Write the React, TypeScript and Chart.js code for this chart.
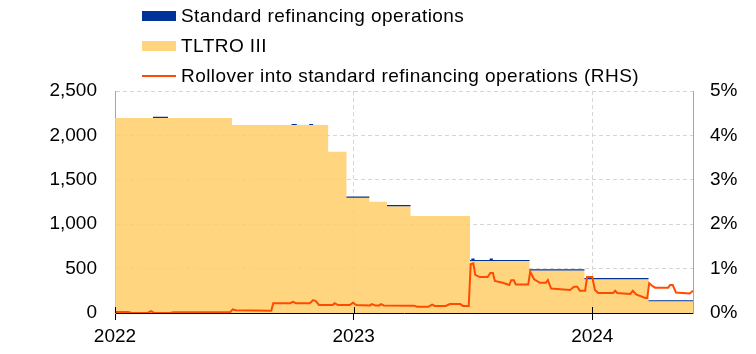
import React, { useEffect, useRef } from 'react';
import { Chart, registerables } from 'chart.js';

Chart.register(...registerables);

// ---- axis ----
const AXIS_START = '2022-01-01';
const AXIS_END = '2024-06-03';
const yearTickDates = ['2022-01-01', '2023-01-01', '2024-01-01'];
const yearTickLabels = ['2022', '2023', '2024'];
const leftTickStep = 500;
const leftMax = 2500;
const rightTickStep = 1;
const rightMax = 5;

// ---- amounts (EUR bn), step series: value holds from date until next date ----
const amountDates = [
  '2022-01-01', '2022-02-28', '2022-03-23', '2022-06-29', '2022-09-28', '2022-10-06',
  '2022-10-25', '2022-10-31', '2022-11-23', '2022-12-21', '2023-01-25', '2023-02-21',
  '2023-03-29', '2023-06-28', '2023-06-30', '2023-07-05', '2023-07-28', '2023-08-02',
  '2023-09-27', '2023-12-20', '2024-03-27', '2024-06-03',
];
const tltroValues = [
  2196, 2196, 2196, 2117, 2117, 2117,
  2117, 2117, 1816, 1298, 1253, 1203,
  1092, 585, 585, 585, 585, 585,
  480, 380, 131, 131,
];
const mroValues = [
  0.3, 13, 0.3, 0.3, 11, 0.3,
  11, 0.3, 0.3, 14, 1, 13,
  1, 13, 28, 13, 28, 13,
  13, 13, 13, 13,
];

// ---- rollover share (%, RHS) ----
const rolloverDates = [
  '2022-01-01', '2022-01-21', '2022-01-27', '2022-02-20', '2022-02-25', '2022-03-02',
  '2022-03-26', '2022-03-31', '2022-06-26', '2022-06-30', '2022-07-05', '2022-08-28',
  '2022-08-31', '2022-09-26', '2022-09-30', '2022-10-05', '2022-10-26', '2022-10-31',
  '2022-11-04', '2022-11-09', '2022-11-30', '2022-12-03', '2022-12-08', '2022-12-26',
  '2022-12-31', '2023-01-05', '2023-01-26', '2023-01-29', '2023-02-03', '2023-02-09',
  '2023-02-12', '2023-02-16', '2023-04-03', '2023-04-08', '2023-04-25', '2023-05-01',
  '2023-05-05', '2023-05-22', '2023-05-28', '2023-06-13', '2023-06-17', '2023-06-26',
  '2023-06-29', '2023-07-03', '2023-07-06', '2023-07-13', '2023-07-25', '2023-07-29',
  '2023-08-02', '2023-08-05', '2023-08-17', '2023-08-27', '2023-08-30', '2023-09-03',
  '2023-09-06', '2023-09-25', '2023-09-28', '2023-10-04', '2023-10-13', '2023-10-22',
  '2023-10-25', '2023-10-30', '2023-11-28', '2023-12-04', '2023-12-09', '2023-12-13',
  '2023-12-21', '2023-12-24', '2024-01-01', '2024-01-05', '2024-01-10', '2024-02-02',
  '2024-02-05', '2024-02-08', '2024-02-28', '2024-03-03', '2024-03-08', '2024-03-22',
  '2024-03-25', '2024-03-28', '2024-04-01', '2024-04-06', '2024-04-26', '2024-04-29',
  '2024-05-03', '2024-05-08', '2024-05-29', '2024-06-03',
];
const rolloverPct = [
  0.02, 0.02, 0.0, 0.0, 0.04, 0.0,
  0.0, 0.015, 0.015, 0.08, 0.06, 0.05,
  0.22, 0.22, 0.25, 0.22, 0.22, 0.29,
  0.27, 0.18, 0.18, 0.22, 0.18, 0.18,
  0.23, 0.18, 0.17, 0.2, 0.17, 0.17,
  0.2, 0.17, 0.165, 0.14, 0.14, 0.19,
  0.16, 0.16, 0.2, 0.2, 0.16, 0.16,
  1.1, 1.12, 0.86, 0.81, 0.81, 0.9,
  0.9, 0.72, 0.68, 0.63, 0.74, 0.74,
  0.64, 0.64, 0.93, 0.76, 0.68, 0.68,
  0.74, 0.55, 0.52, 0.59, 0.59, 0.5,
  0.5, 0.81, 0.81, 0.52, 0.45, 0.45,
  0.5, 0.45, 0.43, 0.5, 0.42, 0.34,
  0.34, 0.67, 0.62, 0.57, 0.57, 0.63,
  0.63, 0.46, 0.44, 0.5,
];

const seriesNames = [
  'Standard refinancing operations',
  'TLTRO III',
  'Rollover into standard refinancing operations (RHS)',
];

const COLORS = {
  mro: '#003299',
  tltro: 'rgba(255, 206, 106, 0.85)',
  tltroLegend: '#FFD580',
  rollover: '#FF4B00',
  grid: '#d6d6d6',
  axisGrey: '#a6a6a6',
};
const FONT_FAMILY = '"Liberation Sans", Arial, Helvetica, sans-serif';
const FONT_SIZE = 19;

const DAY_MS = 86400000;
const day = (s: string) => (Date.parse(s) - Date.parse(AXIS_START)) / DAY_MS;

const tickUpPlugin = {
  id: 'tickUp',
  afterDraw(chart: any) {
    const { ctx, chartArea, scales } = chart;
    const x = scales.x;
    ctx.save();
    ctx.strokeStyle = '#000';
    ctx.lineWidth = 1;
    yearTickDates.forEach((d) => {
      const px = Math.round(x.getPixelForValue(day(d))) + 0.5;
      ctx.beginPath();
      ctx.moveTo(px, chartArea.bottom - 6);
      ctx.lineTo(px, chartArea.bottom);
      ctx.stroke();
    });
    ctx.restore();
  },
};

function ChartCanvas() {
  const ref = useRef<HTMLCanvasElement | null>(null);
  useEffect(() => {
    if (!ref.current) return;
    const tltroData = amountDates.map((d, i) => ({ x: day(d), y: tltroValues[i] }));
    const totalData = amountDates.map((d, i) => ({ x: day(d), y: tltroValues[i] + mroValues[i] }));
    const rollData = rolloverDates.map((d, i) => ({ x: day(d), y: rolloverPct[i] }));
    const font = { family: FONT_FAMILY, size: FONT_SIZE };

    const chart = new Chart(ref.current, {
      type: 'line',
      data: {
        datasets: [
          {
            label: seriesNames[1],
            data: tltroData,
            yAxisID: 'y',
            stepped: true,
            fill: 'origin',
            backgroundColor: COLORS.tltro,
            borderColor: 'rgba(0,0,0,0)',
            borderWidth: 0,
            pointRadius: 0,
            order: 3,
          },
          {
            label: seriesNames[0],
            data: totalData,
            yAxisID: 'y',
            stepped: true,
            fill: '-1',
            backgroundColor: COLORS.mro,
            borderColor: 'rgba(0,0,0,0)',
            borderWidth: 0,
            pointRadius: 0,
            order: 2,
          },
          {
            label: seriesNames[2],
            data: rollData,
            yAxisID: 'y2',
            fill: false,
            borderColor: COLORS.rollover,
            borderWidth: 2,
            pointRadius: 0,
            tension: 0,
            order: 1,
          },
        ],
      } as any,
      options: {
        animation: false,
        responsive: false,
        devicePixelRatio: 1,
        events: [],
        layout: { padding: { top: 83, left: 0, right: 0, bottom: 0 } },
        plugins: {
          legend: { display: false },
          tooltip: { enabled: false },
        },
        scales: {
          x: {
            type: 'linear',
            min: 0,
            max: day(AXIS_END),
            afterBuildTicks: (axis: any) => {
              axis.ticks = yearTickDates.map((d) => ({ value: day(d) }));
            },
            afterFit: (axis: any) => {
              axis.height = 33;
            },
            ticks: {
              autoSkip: false,
              maxRotation: 0,
              color: '#000',
              font,
              padding: 5,
              callback: (v: any) => {
                const i = yearTickDates.findIndex((d) => day(d) === v);
                return i >= 0 ? yearTickLabels[i] : '';
              },
            },
            grid: {
              color: (c: any) => (c.index === 0 ? 'rgba(0,0,0,0)' : COLORS.grid),
              tickColor: '#000',
              tickLength: 7,
              tickBorderDash: [],
              lineWidth: 1,
            },
            border: { color: '#000', width: 1, dash: [4, 3] },
          },
          y: {
            type: 'linear',
            position: 'left',
            min: 0,
            max: leftMax,
            afterFit: (axis: any) => {
              axis.width = 107;
            },
            ticks: {
              stepSize: leftTickStep,
              color: '#000',
              font,
              padding: 18,
              callback: (v: any) => Number(v).toLocaleString('en-US'),
            },
            grid: {
              color: (c: any) => (c.index === 0 ? 'rgba(0,0,0,0)' : COLORS.grid),
              drawTicks: false,
              lineWidth: 1,
            },
            border: { color: COLORS.axisGrey, width: 1, dash: [4, 3] },
          },
          y2: {
            type: 'linear',
            position: 'right',
            min: 0,
            max: rightMax,
            afterFit: (axis: any) => {
              axis.width = 55;
            },
            ticks: {
              stepSize: rightTickStep,
              color: '#000',
              font,
              padding: 17,
              callback: (v: any) => `${v}%`,
            },
            grid: { display: false, drawTicks: false, drawOnChartArea: false },
            border: { color: COLORS.axisGrey, width: 1 },
          },
        },
      } as any,
      plugins: [tickUpPlugin],
    });
    return () => chart.destroy();
  }, []);
  return <canvas ref={ref} width={740} height={338} style={{ display: 'block' }} />;
}

function Legend() {
  const items = [
    { name: seriesNames[0], kind: 'box', color: COLORS.mro },
    { name: seriesNames[1], kind: 'box', color: COLORS.tltroLegend },
    { name: seriesNames[2], kind: 'line', color: COLORS.rollover },
  ];
  return (
    <div
      style={{
        position: 'absolute',
        left: 134,
        top: -7,
        fontFamily: FONT_FAMILY,
        fontSize: FONT_SIZE,
        letterSpacing: '0.45px',
        color: '#000',
        whiteSpace: 'nowrap',
      }}
    >
      {items.map((it) => (
        <div key={it.name} style={{ display: 'flex', alignItems: 'center', height: 30 }}>
          <span
            style={{
              display: 'inline-block',
              width: 34,
              height: it.kind === 'box' ? 10 : 2,
              background: it.color,
              marginRight: 5,
            }}
          />
          <span>{it.name}</span>
        </div>
      ))}
    </div>
  );
}

export default function App() {
  return (
    <div style={{ position: 'relative', width: 740, height: 338 }}>
      <ChartCanvas />
      <Legend />
    </div>
  );
}
